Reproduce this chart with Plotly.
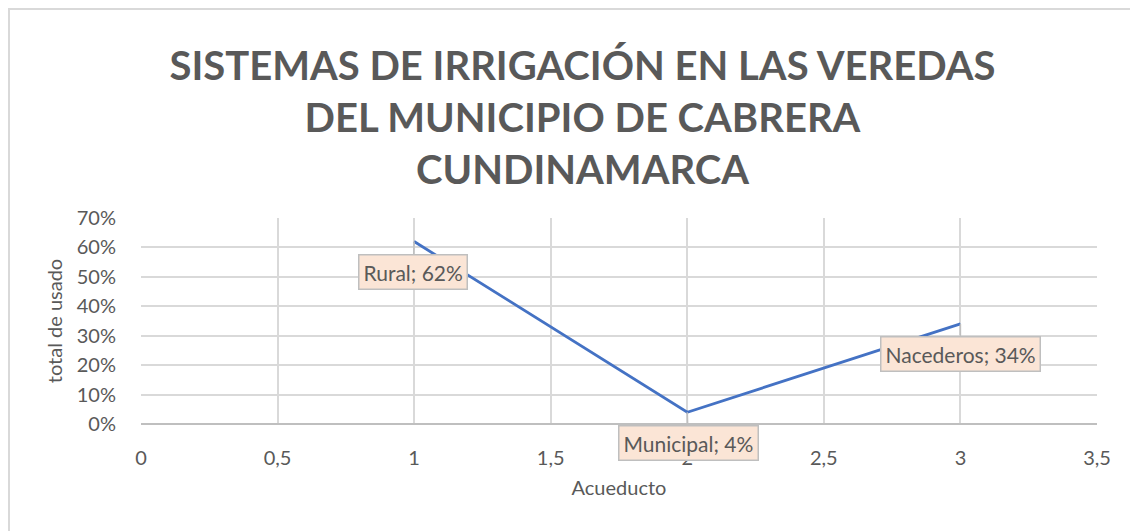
import plotly.graph_objects as go

# Data
x_vals = [1, 2, 3]
categories = ["Rural", "Municipal", "Nacederos"]
pct_vals = [0.62, 0.04, 0.34]

title_lines = ["SISTEMAS DE IRRIGACIÓN EN LAS VEREDAS", "DEL MUNICIPIO DE CABRERA", "CUNDINAMARCA"]
x_title = "Acueducto"
y_title = "total de usado"

# page body has an 8px margin
W, H = 1130, 523
ml, mt = 133, 210
mr = W - (1097 - 8)
mb = H - (424 - 8)
pw, ph = W - ml - mr, H - mt - mb

GRAY_TXT = "#595959"
FONT = "Lato"

fig = go.Figure()
fig.add_trace(go.Scatter(
    x=x_vals, y=pct_vals, mode="lines",
    line=dict(color="#4472C4", width=2.8),
    hoverinfo="skip", showlegend=False,
))

# callout labels
offsets = [(-1, 30), (1, 31), (0, 30)]
for xv, yv, cat, (ax, ay) in zip(x_vals, pct_vals, categories, offsets):
    fig.add_annotation(
        x=xv, y=yv, text=f"{cat}; {round(yv*100)}%",
        showarrow=True, arrowhead=0, arrowwidth=1.5, arrowcolor="#BFBFBF",
        ax=ax, ay=ay,
        font=dict(family=FONT, size=21, color=GRAY_TXT),
        bgcolor="#FBE5D6", bordercolor="#BFBFBF", borderwidth=1.5, borderpad=4,
    )

# outer chart border
fig.add_shape(
    type="rect", xref="paper", yref="paper",
    x0=(1 - ml) / pw, x1=(W + 5 - ml) / pw,
    y0=1 - (H + 5 - mt) / ph, y1=1 + (mt - 1) / ph,
    line=dict(color="#D9D9D9", width=2), fillcolor="rgba(0,0,0,0)", layer="below",
)

fig.update_layout(
    width=W, height=H,
    margin=dict(l=ml, r=mr, t=mt, b=mb),
    paper_bgcolor="white", plot_bgcolor="white",
    separators=", ",
    title=dict(
        text="<br>".join(title_lines),
        x=(582.5 - 8) / W, xanchor="center", xref="container",
        y=1 - 72 / H, yanchor="top", yref="container",
        font=dict(family=FONT, size=40, color=GRAY_TXT, weight="bold"),
    ),
    font=dict(family=FONT, color=GRAY_TXT),
)

fig.update_xaxes(
    range=[0, 3.5], dtick=0.5, tick0=0,
    showgrid=True, gridcolor="#D9D9D9", gridwidth=1.5,
    zeroline=False, showline=False,
    ticks="outside", ticklen=16, tickcolor="rgba(0,0,0,0)",
    tickfont=dict(family=FONT, size=20, color=GRAY_TXT),
    title=dict(text=x_title, font=dict(family=FONT, size=20, color=GRAY_TXT), standoff=12),
)
fig.update_yaxes(
    range=[0, 0.7], dtick=0.1, tickformat=".0%",
    showgrid=True, gridcolor="#D9D9D9", gridwidth=1.5,
    zeroline=True, zerolinecolor="#BFBFBF", zerolinewidth=2,
    showline=False,
    ticks="outside", ticklen=20, tickcolor="rgba(0,0,0,0)",
    tickfont=dict(family=FONT, size=20, color=GRAY_TXT),
    title=dict(text=y_title, font=dict(family=FONT, size=20, color=GRAY_TXT), standoff=8),
)

fig.write_html("out.html")
